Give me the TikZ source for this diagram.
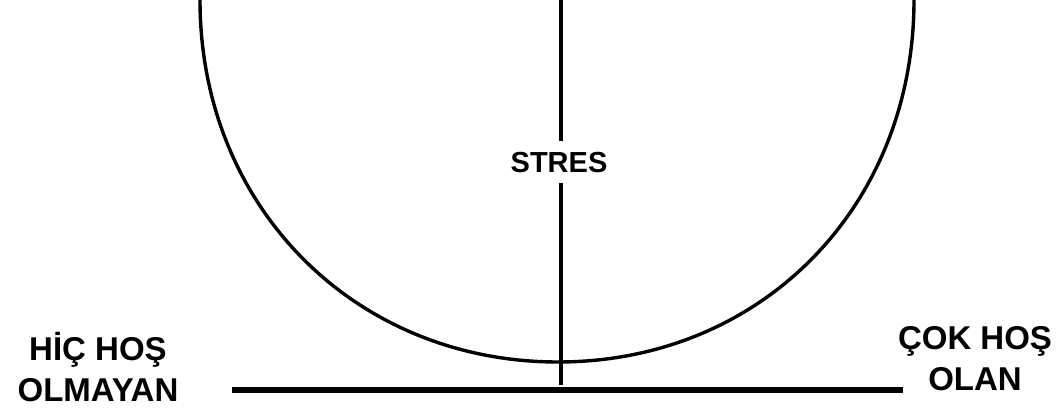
\documentclass[tikz,border=0pt]{standalone}
\usepackage{fontspec}
\setmainfont{Liberation Sans}
\begin{document}
\begin{tikzpicture}[x=0.5pt,y=0.5pt]
  \tikzset{
    sidetext/.style={font=\bfseries\fontsize{16.5}{20.5}\selectfont, align=center, inner sep=0pt},
    curveline/.style={line width=1.7pt},
    axisline/.style={line width=2.6pt}
  }
  \useasboundingbox (0,0) rectangle (1059,412);
  \coordinate (vtop) at (561,412);
  \coordinate (vbot) at (561,27);
  \coordinate (hleft) at (232,22);
  \coordinate (hright) at (903,22);
  \coordinate (ctop1) at (200,412);
  \coordinate (cbot) at (558,50);
  \coordinate (ctop2) at (914,412);
  \node[font=\bfseries\fontsize{14.5}{17}\selectfont, text height=10.4pt, text depth=0pt,
        inner xsep=2pt, inner ysep=5pt] (stres) at (559,250) {STRES};
  \node[sidetext] (hic) at (98,44.5) {HİÇ HOŞ\\OLMAYAN};
  \node[sidetext] (cok) at (975,53) {ÇOK HOŞ\\OLAN};
  \draw[curveline] (ctop1) .. controls (200,205) and (355,50) .. (cbot)
    .. controls (761,50) and (914,205) .. (ctop2);
  \draw[curveline] (vtop) -- (vtop |- stres.north) (vbot |- stres.south) -- (vbot);
  \draw[axisline] (hleft) -- (hright);
\end{tikzpicture}
\end{document}
